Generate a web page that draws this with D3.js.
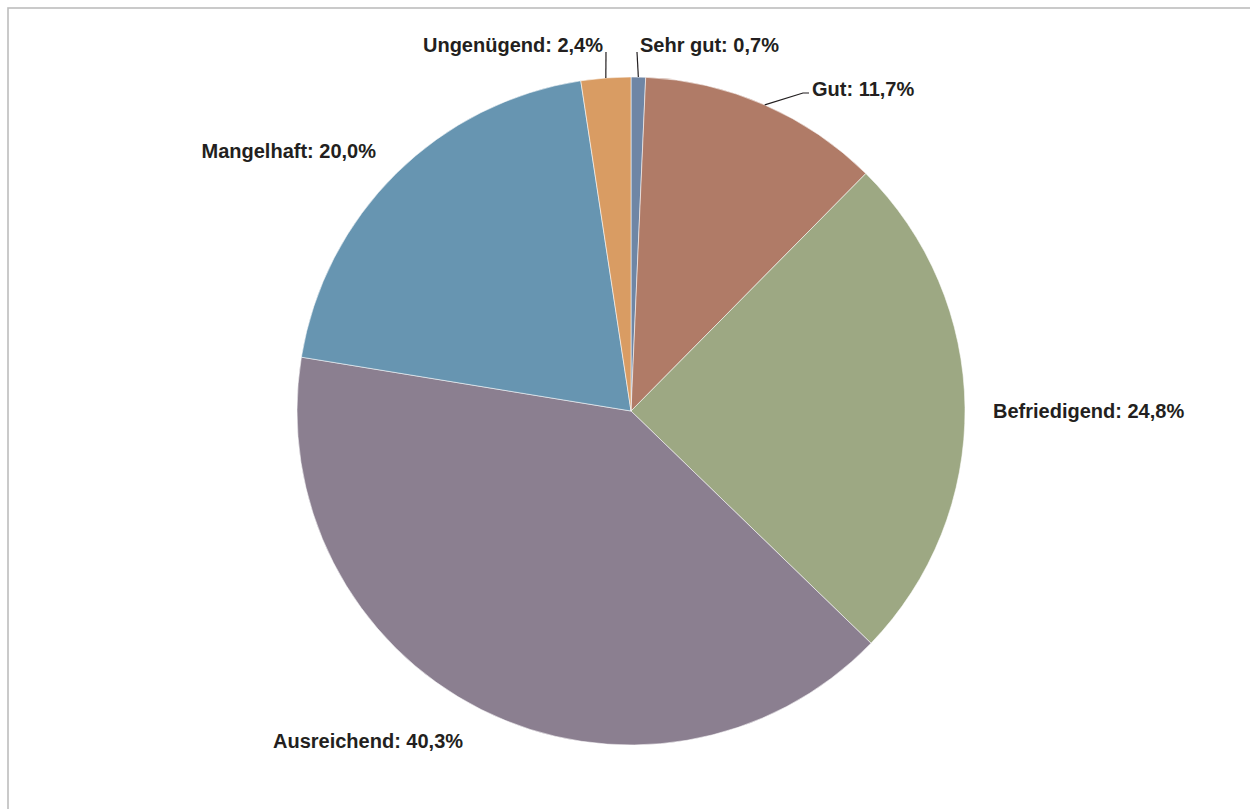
<!DOCTYPE html>
<html>
<head>
<meta charset="utf-8">
<script src="https://cdn.jsdelivr.net/npm/d3@7"></script>
<style>
  html, body { margin: 0; padding: 0; background: #fff; }
  svg { display: block; }
  text { font-family: "Liberation Sans", Arial, sans-serif; font-weight: bold; font-size: 20px; fill: #231f20; }
</style>
</head>
<body>
<svg id="chart" width="1250" height="809"></svg>
<script>
// Grade distribution (percent), clockwise from 12 o'clock
const categories = ["Sehr gut", "Gut", "Befriedigend", "Ausreichend", "Mangelhaft", "Ungenügend"];
const values = [0.7, 11.7, 24.8, 40.3, 20.0, 2.4];
const colors = ["#6f86a5", "#b07b67", "#9da883", "#8b7f90", "#6795b1", "#d99c63"];

const svg = d3.select("#chart");
const W = 1250, H = 809;

// outer frame (runs past the right and bottom edges)
svg.append("rect")
  .attr("x", 8).attr("y", 8)
  .attr("width", W + 20).attr("height", H + 20)
  .attr("fill", "none").attr("stroke", "#bdbdbd").attr("stroke-width", 1.6);

const cx = 631, cy = 411, R = 334;
const g = svg.append("g").attr("transform", `translate(${cx},${cy})`);

const data = categories.map((c, i) => ({ name: c, value: values[i], color: colors[i] }));
const pie = d3.pie().value(d => d.value).sort(null);
const arcs = pie(data);
const arc = d3.arc().innerRadius(0).outerRadius(R);

g.selectAll("path.slice")
  .data(arcs)
  .join("path")
  .attr("class", "slice")
  .attr("d", arc)
  .attr("fill", d => d.data.color)
  .attr("stroke", "rgba(255,255,255,0.55)")
  .attr("stroke-width", 1);

const fmt = v => d3.format(".1f")(v).replace(".", ",") + "%";

// label placement per slice: text anchor point, alignment, optional leader path
const labelLayout = {
  "Sehr gut":     { x: 640,  y: 52,  anchor: "start", leader: [[637, 52]] },
  "Gut":          { x: 812,  y: 96,  anchor: "start", leader: [[803, 93], [809, 93]] },
  "Befriedigend": { x: 993,  y: 418, anchor: "start" },
  "Ausreichend":  { x: 273,  y: 748, anchor: "start" },
  "Mangelhaft":   { x: 376,  y: 158, anchor: "end" },
  "Ungenügend":   { x: 603,  y: 52,  anchor: "end", leader: [[606, 52]] }
};

const line = d3.line();
arcs.forEach(a => {
  const L = labelLayout[a.data.name];
  if (L.leader) {
    const mid = (a.startAngle + a.endAngle) / 2;
    const start = [cx + R * Math.sin(mid), cy - R * Math.cos(mid)];
    svg.append("path")
      .attr("d", line([start, ...L.leader]))
      .attr("fill", "none")
      .attr("stroke", "#231f20")
      .attr("stroke-width", 1.2);
  }
  svg.append("text")
    .attr("x", L.x).attr("y", L.y)
    .attr("text-anchor", L.anchor)
    .text(`${a.data.name}: ${fmt(a.data.value)}`);
});
</script>
</body>
</html>
